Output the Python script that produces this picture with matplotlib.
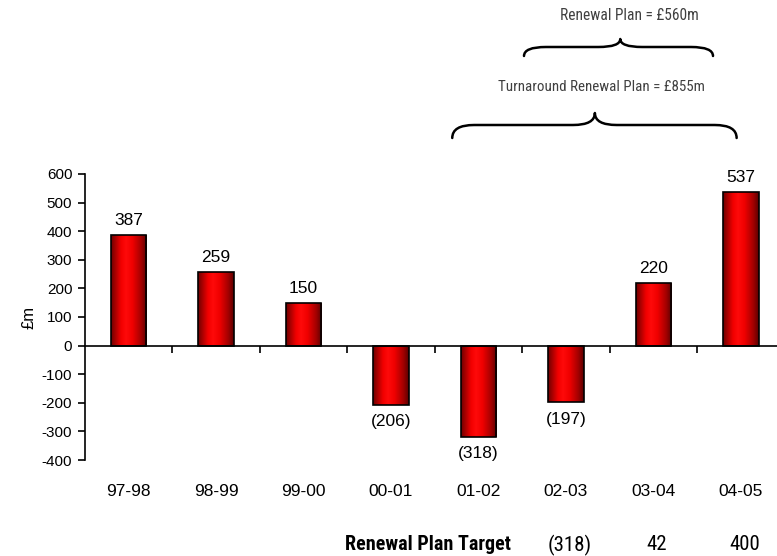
import matplotlib
matplotlib.use("Agg")
import matplotlib.pyplot as plt
import numpy as np
from matplotlib import font_manager
from matplotlib.colors import LinearSegmentedColormap
from matplotlib.path import Path
from matplotlib.patches import PathPatch
from matplotlib.transforms import blended_transform_factory

# Data
years = ["97-98", "98-99", "99-00", "00-01", "01-02", "02-03", "03-04", "04-05"]
values = [387, 259, 150, -206, -318, -197, 220, 537]
target_years = ["02-03", "03-04", "04-05"]
target_labels = ["(318)", "42", "400"]
renewal_plan_text = "Renewal Plan = £560m"
turnaround_plan_text = "Turnaround Renewal Plan = £855m"

plt.rcParams["font.family"] = ["Liberation Sans", "DejaVu Sans"]
plt.rcParams["axes.unicode_minus"] = False

# use a narrow face for the annotations when one is installed
installed = {f.name for f in font_manager.fontManager.ttflist}
narrow_name = next((n for n in ["Liberation Sans Narrow", "Arial Narrow",
                                "Roboto Condensed", "Open Sans Condensed"]
                    if n in installed), None)
if narrow_name:
    narrow = [narrow_name, "Liberation Sans", "DejaVu Sans"]
    nscale = 1.0
else:
    narrow = ["Liberation Sans", "DejaVu Sans"]
    nscale = 0.84

W, H = 777, 556
fig = plt.figure(figsize=(W / 100, H / 100), dpi=100)
ax = fig.add_axes([84.75 / W, 1 - 460 / H, 700 / W, 286 / H])

x = np.arange(len(years))
bars = ax.bar(x, values, width=0.41, facecolor="none", edgecolor="black",
              linewidth=1.2, zorder=3)

# cylinder-like red shading inside each bar
shade = LinearSegmentedColormap.from_list(
    "shade", [(0.0, "#6e0000"), (0.28, "#f20000"), (0.42, "#ff0a0a"),
              (0.6, "#f00000"), (0.85, "#a00000"), (1.0, "#5a0000")])
grad = np.linspace(0, 1, 256).reshape(1, -1)
for b in bars:
    x0, y0 = b.get_x(), b.get_y()
    w, h = b.get_width(), b.get_height()
    im = ax.imshow(grad, cmap=shade, aspect="auto",
                   extent=(x0, x0 + w, min(y0, y0 + h), max(y0, y0 + h)),
                   zorder=2, interpolation="bilinear")
    im.set_clip_path(b)

ax.set_xlim(-0.5, len(years) - 0.5)
ax.set_ylim(-400, 600)
ax.set_yticks(np.arange(-400, 601, 100))
ax.tick_params(axis="y", direction="out", length=5, width=1.2, labelsize=11,
               pad=4)

# zero line with tick marks between categories
for s in ["top", "right"]:
    ax.spines[s].set_visible(False)
ax.spines["bottom"].set_position(("data", 0))
ax.spines["left"].set_linewidth(1.2)
ax.spines["bottom"].set_linewidth(1.2)
ax.spines["bottom"].set_zorder(4)
ax.set_xticks(x[:-1] + 0.5)
ax.set_xticklabels([])
ax.tick_params(axis="x", direction="out", length=5, width=1.2)

ax.set_ylabel("£m", fontsize=12, labelpad=4)

# category labels at the foot of the chart
btrans = blended_transform_factory(ax.transData, fig.transFigure)
for xi, yr in zip(x, years):
    ax.text(xi, 1 - 491 / H, yr, transform=btrans, ha="center", va="center",
            fontsize=12.5)

# value labels
for xi, v in zip(x, values):
    if v >= 0:
        ax.annotate(f"{v}", (xi, v), xytext=(0, 5), textcoords="offset points",
                    ha="center", va="bottom", fontsize=12.5)
    else:
        ax.annotate(f"({-v})", (xi, v), xytext=(0, -7),
                    textcoords="offset points", ha="center", va="top",
                    fontsize=12.5)

# renewal plan target row
fig.text(511 / W, 1 - 545 / H, "Renewal Plan Target", ha="right", va="center",
         fontsize=14.5 * nscale, fontweight="bold", family=narrow)
for yr, lab in zip(target_years, target_labels):
    ax.text(years.index(yr) + 0.04, 1 - 545 / H, lab, transform=btrans,
            ha="center", va="center", fontsize=15 * nscale, family=narrow)


def brace(xl, xr, xp, y_end, y_flat, y_peak, dx=0.25):
    """Curly brace opening downward, x in data units, y in figure pixels."""
    ye, yf, yp = (1 - y_end / H, 1 - y_flat / H, 1 - y_peak / H)
    verts = [
        (xl, ye), (xl, yf), (xl + dx, yf),
        (xp - dx, yf),
        (xp, yf), (xp, yp),
        (xp, yf), (xp + dx, yf),
        (xr - dx, yf),
        (xr, yf), (xr, ye),
    ]
    codes = [Path.MOVETO, Path.CURVE3, Path.CURVE3, Path.LINETO,
             Path.CURVE3, Path.CURVE3, Path.CURVE3, Path.CURVE3,
             Path.LINETO, Path.CURVE3, Path.CURVE3]
    p = PathPatch(Path(verts, codes), transform=btrans, facecolor="none",
                  edgecolor="black", linewidth=1.8, clip_on=False,
                  capstyle="round", joinstyle="round")
    ax.add_patch(p)


brace(4.52, 6.68, 5.62, 56, 47, 39)
brace(3.70, 6.95, 5.33, 138, 125, 113)

fig.text(629 / W, 1 - 15 / H, renewal_plan_text, ha="center", va="center",
         fontsize=11.2 * nscale, color="#404040", family=narrow)
fig.text(601 / W, 1 - 87 / H, turnaround_plan_text, ha="center", va="center",
         fontsize=10.8 * nscale, color="#404040", family=narrow)

fig.savefig("out.png", dpi=100)
